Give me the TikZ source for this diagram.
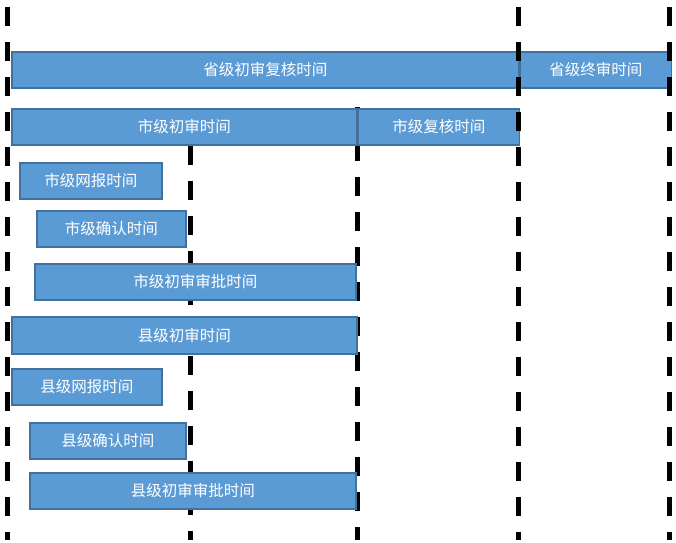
\documentclass[tikz,border=0pt]{standalone}
\usepackage{fontspec}
\newfontfamily\cjk{Noto Sans CJK SC}
\usetikzlibrary{positioning}
\definecolor{barfill}{HTML}{5B9BD5}
\definecolor{barline}{HTML}{41719C}

\begin{document}
\begin{tikzpicture}[x=1pt, y=-1pt,
  node distance = 0pt,
  bar/.style = {rectangle, draw=barline, fill=barfill, line width=1.5pt, text=white, anchor=north west, minimum height=36pt, inner sep=0pt, font=\cjk\fontsize{15.5}{18}\selectfont},
  cut/.style = {line width=5pt, dash pattern=on 19pt off 16pt},
  ]
  \useasboundingbox (0,0) rectangle (676,542);
  % dashed time marks behind the bars
  \foreach \name/\x/\y in {a/7/7, b/190/146, c/357.5/107} {
    \coordinate (\name-top) at (\x,\y);
    \coordinate (\name-bot) at (\x,540);
    \draw[cut] (\name-top) -- (\name-bot);
  }
  % province
  \node[bar, minimum width=507pt] (pcs) at (11,51) {省级初审复核时间};
  \node[bar, minimum width=151pt, anchor=west, right=of pcs] (pzs) {省级终审时间};
  % city
  \node[bar, minimum width=345pt] (scs) at (11,108) {市级初审时间};
  \node[bar, minimum width=161pt, anchor=west, right=of scs] (sfh) {市级复核时间};
  \node[bar, minimum width=142pt] (swb) at (19,162) {市级网报时间};
  \node[bar, minimum width=149pt] (sqr) at (36,210) {市级确认时间};
  \node[bar, minimum width=321pt] (ssp) at (34,263) {市级初审审批时间};
  % county
  \node[bar, minimum width=345pt, minimum height=37pt] (xcs) at (11,316) {县级初审时间};
  \node[bar, minimum width=150pt] (xwb) at (11,368) {县级网报时间};
  \node[bar, minimum width=156pt] (xqr) at (29,422) {县级确认时间};
  \node[bar, minimum width=326pt] (xsp) at (29,472) {县级初审审批时间};
  % dashed time marks over the bars
  \foreach \name/\x/\y in {d/518/7, e/669.5/7} {
    \coordinate (\name-top) at (\x,\y);
    \coordinate (\name-bot) at (\x,540);
    \draw[cut] (\name-top) -- (\name-bot);
  }
\end{tikzpicture}
\end{document}
